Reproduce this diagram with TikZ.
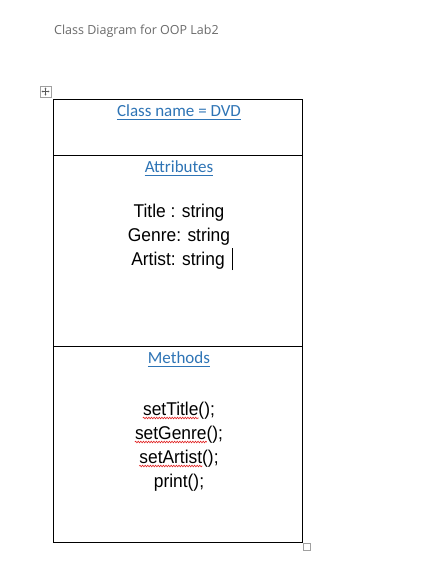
\documentclass[tikz,border=0pt]{standalone}
\usepackage{fontspec}
\setmainfont{Liberation Sans}
\newfontfamily\bodyfont[FakeStretch=0.94]{Liberation Sans}
\newfontfamily\califont{Carlito}
\newfontfamily\hdrfont{Open Sans}
\usetikzlibrary{decorations.pathmorphing,arrows.meta}
\definecolor{linkblue}{HTML}{2E74B5}
\definecolor{hdrgray}{HTML}{6A6A6A}
\definecolor{handlegray}{HTML}{A0A0A0}
\definecolor{squigred}{HTML}{E02020}
\tikzset{
  frame/.style={line width=1pt, black},
  hdr/.style={anchor=base west, inner sep=0pt, text=hdrgray, font=\hdrfont\fontsize{12.5}{15}\selectfont},
  link/.style={anchor=base, inner sep=0pt, text=linkblue, font=\califont\fontsize{17}{20}\selectfont},
  linkline/.style={linkblue, line width=0.9pt},
  body/.style={anchor=base, inner sep=0pt, text=black, font=\bodyfont\fontsize{18.5}{22}\selectfont},
  ghost/.style={anchor=base west, inner sep=0pt, font=\bodyfont\fontsize{18.5}{22}\selectfont},
  squig/.style={squigred, line width=0.6pt, decorate, decoration={snake, segment length=2.6pt, amplitude=0.8pt}},
  handle/.style={handlegray, line width=0.8pt}
}
\begin{document}
\begin{tikzpicture}[x=1pt,y=-1pt]
\useasboundingbox (0,0) rectangle (440,566);
% header
\node[hdr] (head) at (54,34) {Class Diagram for OOP Lab2};
% move handle
\draw[handle, fill=white] (40,86) rectangle (51,97);
\coordinate (hc) at (45.5,91.5);
\draw[gray!70!black, line width=0.5pt, {Stealth[length=1.6pt,width=2pt]}-{Stealth[length=1.6pt,width=2pt]}] ([xshift=-4pt]hc) -- ([xshift=4pt]hc);
\draw[gray!70!black, line width=0.5pt, {Stealth[length=1.6pt,width=2pt]}-{Stealth[length=1.6pt,width=2pt]}] ([yshift=-4pt]hc) -- ([yshift=4pt]hc);
% table
\coordinate (tl) at (53,99);
\coordinate (br) at (302,542);
\coordinate (r1l) at (53,155);
\coordinate (r1r) at (302,155);
\coordinate (r2l) at (53,346);
\coordinate (r2r) at (302,346);
\draw[frame] (tl) rectangle (br);
\draw[frame] (r1l) -- (r1r);
\draw[frame] (r2l) -- (r2r);
% resize handle
\draw[handle, fill=white] (303.5,543.5) rectangle (310.5,550.5);
% class name
\node[link] (cn) at (179,116) {Class name = DVD};
\draw[linkline] ([yshift=-3pt]cn.base west) -- ([yshift=-3pt]cn.base east);
% attributes
\node[link] (at) at (179,172) {Attributes};
\draw[linkline] ([yshift=-3pt]at.base west) -- ([yshift=-3pt]at.base east);
\node[body] (a1) at (179,217) {Title : string};
\node[body] (a2) at (179,241) {Genre: string};
\node[body] (a3) at (178,265) {Artist: string};
\draw[black, line width=0.8pt] ([xshift=7pt,yshift=-5pt]a3.base east) -- ([xshift=7pt,yshift=17pt]a3.base east);
% methods
\node[link] (me) at (179,363) {Methods};
\draw[linkline] ([yshift=-3pt]me.base west) -- ([yshift=-3pt]me.base east);
\node[body] (m1) at (179,415) {setTitle();};
\node[body] (m2) at (179,439) {setGenre();};
\node[body] (m3) at (179,463) {setArtist();};
\node[body] (m4) at (179,487) {print();};
\node[ghost] (w1) at (m1.base west) {\phantom{setTitle}};
\node[ghost] (w2) at (m2.base west) {\phantom{setGenre}};
\node[ghost] (w3) at (m3.base west) {\phantom{setArtist}};
\draw[squig] ([yshift=-3pt]w1.base west) -- ([yshift=-3pt]w1.base east);
\draw[squig] ([yshift=-3pt]w2.base west) -- ([yshift=-3pt]w2.base east);
\draw[squig] ([yshift=-3pt]w3.base west) -- ([yshift=-3pt]w3.base east);
\end{tikzpicture}
\end{document}
